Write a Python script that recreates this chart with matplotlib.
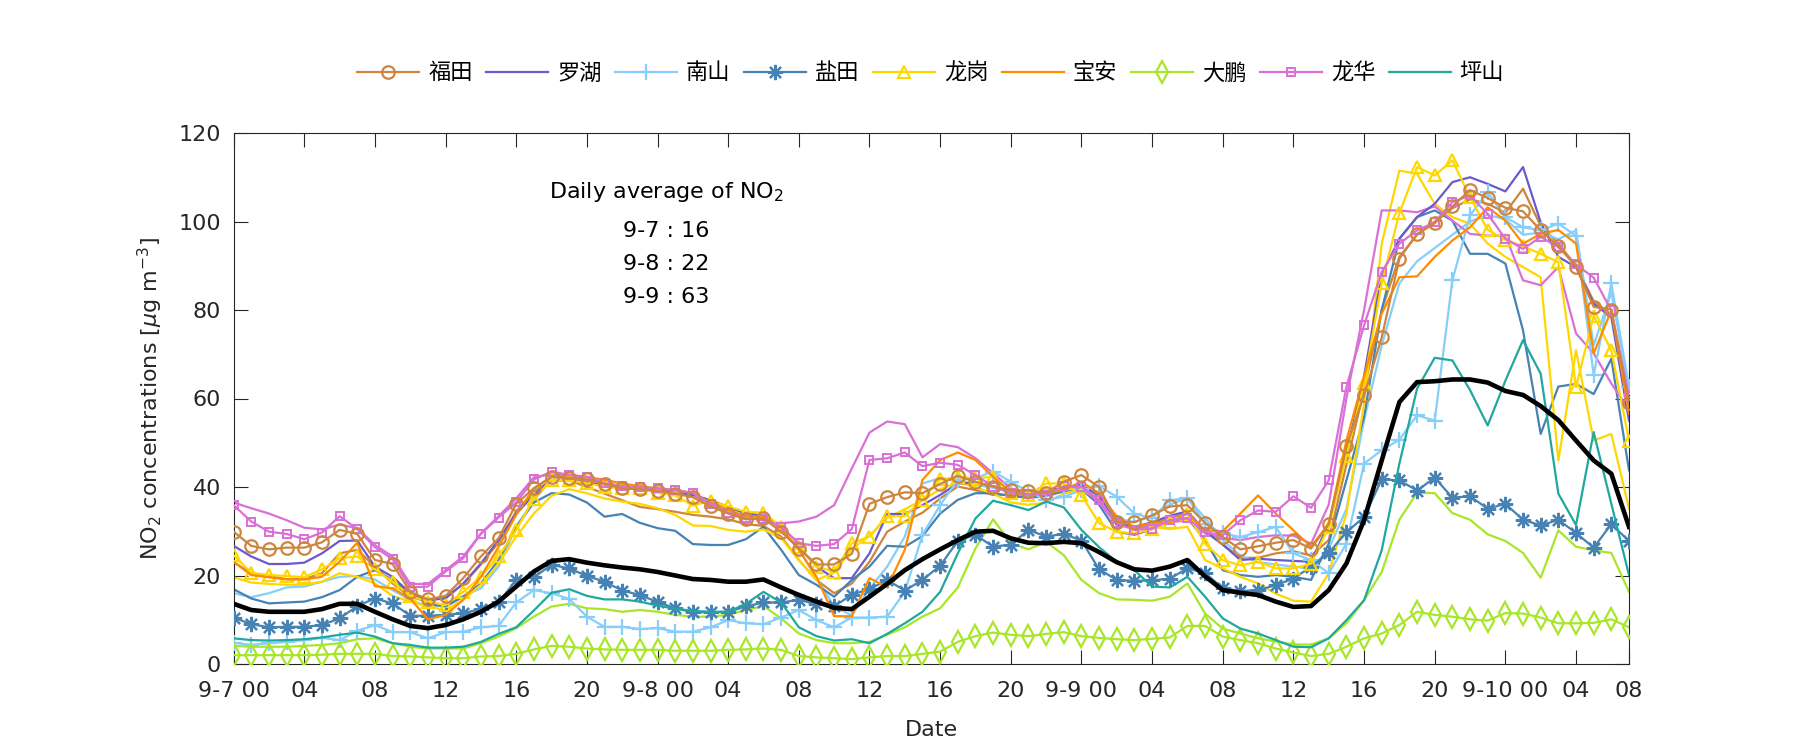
import matplotlib
matplotlib.use('Agg')
import matplotlib.pyplot as plt
import numpy as np

# ---------------- data ----------------
hours = list(range(1, 81))  # hourly index, 9-7 00 ... 9-10 07
tick_pos = list(range(1, 78, 4)) + [80]
tick_labels = ['9-7 00', '04', '08', '12', '16', '20',
               '9-8 00', '04', '08', '12', '16', '20',
               '9-9 00', '04', '08', '12', '16', '20',
               '9-10 00', '04', '08']

district_names = ['福田', '罗湖', '南山', '盐田', '龙岗', '宝安', '大鹏', '龙华', '坪山']

futian = [29.9, 26.7, 25.9, 26.3, 26.3, 27.5, 30.3, 29.4, 23.5, 22.6,
          16.3, 14.6, 15.4, 19.4, 24.3, 28.4, 36.2, 39.7, 42.3, 42.0,
          41.7, 40.7, 39.7, 39.5, 39.1, 38.5, 37.7, 35.6, 34.0, 32.7,
          32.9, 29.9, 26.1, 22.5, 22.5, 24.9, 36.2, 37.7, 38.8, 38.6,
          40.7, 42.5, 41.2, 40.1, 39.3, 39.2, 38.7, 41.2, 42.7, 40.0,
          32.1, 32.1, 33.6, 35.6, 35.9, 31.9, 28.7, 25.9, 26.6, 27.4,
          28.0, 26.1, 31.6, 49.2, 60.7, 73.8, 91.6, 97.2, 99.6, 103.4,
          107.1, 105.3, 103.1, 102.3, 98.0, 94.4, 89.8, 80.7, 80.1, 58.9]
futian_b = [23.0, 20.5, 19.8, 19.2, 19.2, 20.5, 25.0, 25.8, 22.0, 18.2,
            15.2, 14.1, 15.2, 18.0, 22.5, 27.5, 34.5, 39.0, 41.5, 41.5,
            40.0, 38.5, 37.0, 35.5, 35.0, 34.4, 33.7, 33.3, 32.7, 31.6,
            31.2, 28.8, 23.5, 19.0, 16.0, 18.2, 23.1, 29.9, 32.2, 34.2,
            37.4, 40.1, 39.3, 38.2, 38.2, 37.8, 38.2, 39.3, 39.7, 38.2,
            32.5, 30.7, 31.5, 33.0, 34.0, 30.0, 27.0, 24.0, 24.0, 25.0,
            25.5, 24.5, 28.0, 45.0, 62.0, 80.0, 92.0, 97.0, 100.0, 103.0,
            105.0, 104.0, 102.0, 107.4, 99.0, 95.0, 90.0, 82.0, 79.0, 58.0]
luohu = [26.7, 24.3, 22.6, 22.6, 22.9, 25.0, 27.8, 27.9, 22.0, 19.7,
         16.0, 14.5, 14.8, 18.2, 22.7, 28.0, 34.0, 38.2, 41.6, 41.7,
         41.0, 40.3, 39.8, 39.5, 39.2, 38.8, 38.2, 37.0, 35.5, 34.0,
         33.5, 31.0, 26.5, 22.0, 19.4, 19.4, 25.0, 33.9, 33.9, 35.9,
         38.2, 40.8, 41.0, 40.2, 39.0, 38.8, 39.0, 40.0, 40.5, 38.0,
         31.5, 31.0, 32.0, 33.5, 34.5, 30.0, 27.0, 23.5, 23.8, 23.5,
         23.3, 23.1, 31.7, 47.5, 65.0, 88.0, 96.1, 101.0, 104.0, 108.9,
         110.0, 108.5, 106.8, 112.3, 99.8, 92.0, 89.7, 81.4, 78.4, 55.0]
nanshan = [4.8, 4.3, 4.7, 5.0, 5.4, 5.9, 5.4, 7.5, 8.8, 7.2,
           7.2, 5.8, 7.2, 7.3, 8.3, 8.6, 13.9, 16.7, 16.0, 14.7,
           10.7, 8.4, 8.4, 7.9, 8.1, 7.3, 7.3, 8.3, 9.9, 9.2,
           9.0, 10.5, 12.2, 9.9, 8.3, 10.5, 10.5, 10.7, 16.3, 29.2,
           35.9, 41.6, 42.0, 43.5, 41.2, 38.9, 37.1, 37.8, 39.3, 40.2,
           37.8, 34.0, 32.9, 37.0, 37.5, 31.7, 29.5, 28.7, 29.8, 31.0,
           25.0, 23.5, 20.5, 27.2, 45.3, 48.3, 50.7, 56.2, 55.0, 86.7,
           101.4, 106.6, 101.0, 98.7, 98.0, 99.5, 96.8, 65.3, 86.0, 62.7]
nanshan_b = [16.0, 15.1, 16.0, 17.3, 17.5, 18.6, 19.7, 19.9, 19.1, 16.7,
             14.5, 13.0, 13.3, 15.4, 17.1, 22.0, 31.0, 37.1, 41.6, 41.5,
             41.0, 40.5, 40.0, 39.6, 39.3, 38.8, 38.2, 37.0, 35.5, 34.0,
             33.5, 31.0, 26.0, 19.4, 13.0, 11.0, 17.0, 22.0, 28.8, 40.8,
             42.0, 41.5, 40.5, 39.8, 39.0, 38.5, 38.8, 39.5, 40.0, 38.0,
             33.0, 32.0, 33.5, 36.0, 37.5, 33.0, 28.0, 24.5, 23.0, 22.5,
             22.0, 21.5, 26.0, 35.0, 55.0, 72.0, 86.0, 91.0, 94.0, 97.0,
             100.0, 101.5, 100.5, 97.0, 97.5, 96.0, 98.0, 72.0, 84.0, 62.0]
yantian = [10.5, 9.0, 8.3, 8.4, 8.4, 8.8, 10.3, 13.1, 14.8, 13.7,
           10.9, 10.9, 11.1, 11.5, 12.4, 13.9, 19.0, 19.6, 22.4, 21.6,
           19.9, 18.6, 16.6, 15.6, 14.0, 12.6, 11.7, 11.7, 11.8, 13.0,
           13.9, 13.9, 14.5, 13.5, 13.0, 15.7, 16.9, 19.0, 16.6, 19.0,
           22.2, 27.8, 29.2, 26.5, 27.0, 30.3, 28.8, 29.4, 27.9, 21.4,
           19.0, 18.8, 18.9, 19.3, 21.6, 20.6, 17.1, 16.5, 16.7, 17.8,
           19.3, 22.0, 25.1, 29.8, 33.2, 41.7, 41.5, 39.2, 42.1, 37.6,
           37.9, 35.1, 36.2, 32.6, 31.3, 32.6, 29.6, 26.3, 31.6, 27.8]
yantian_b = [16.9, 14.8, 13.7, 13.9, 14.1, 15.1, 16.7, 19.7, 21.2, 19.0,
             16.0, 13.6, 13.0, 15.2, 18.2, 23.5, 31.0, 36.5, 38.6, 38.3,
             36.5, 33.3, 33.9, 31.9, 30.7, 30.1, 27.1, 26.9, 26.9, 28.2,
             31.0, 25.8, 20.1, 17.9, 15.2, 19.0, 22.0, 26.7, 26.5, 28.9,
             34.0, 37.1, 38.6, 38.6, 38.0, 37.5, 38.0, 39.0, 39.5, 36.0,
             29.9, 29.2, 30.5, 32.0, 33.0, 28.0, 21.2, 20.1, 19.7, 20.1,
             19.7, 19.0, 27.2, 41.5, 55.8, 80.0, 96.1, 101.0, 102.5, 100.2,
             92.7, 92.7, 90.5, 75.4, 52.0, 62.7, 63.3, 61.0, 69.0, 43.8]
longgang = [24.6, 20.6, 20.1, 19.9, 19.6, 21.4, 23.9, 24.3, 21.4, 18.6,
            15.4, 14.1, 13.3, 16.3, 19.7, 24.3, 30.3, 37.4, 41.6, 41.6,
            40.8, 40.1, 39.7, 39.7, 38.7, 38.1, 35.8, 36.9, 35.6, 34.4,
            34.2, 31.0, 26.5, 22.0, 20.9, 27.3, 28.8, 33.4, 33.4, 37.1,
            41.7, 42.3, 42.0, 42.3, 38.6, 38.2, 40.8, 40.8, 38.2, 31.8,
            29.9, 29.5, 30.5, 32.0, 34.0, 27.2, 23.5, 22.3, 23.1, 21.6,
            21.6, 22.7, 30.9, 47.1, 63.4, 86.0, 101.9, 112.3, 110.4, 113.8,
            105.5, 98.1, 95.9, 94.4, 92.7, 90.8, 62.6, 78.7, 70.9, 50.5]
longgang_b = [19.6, 18.4, 18.1, 17.9, 17.9, 18.6, 20.5, 19.7, 18.2, 15.4,
              14.1, 13.0, 12.2, 14.5, 17.9, 22.7, 28.8, 34.0, 38.0, 39.5,
              38.6, 37.4, 36.7, 36.2, 35.2, 33.7, 31.3, 31.2, 30.3, 29.9,
              30.4, 28.4, 23.5, 19.0, 20.6, 26.0, 29.0, 33.0, 35.0, 37.0,
              39.5, 41.0, 40.0, 38.5, 36.5, 36.0, 36.5, 38.5, 39.5, 37.0,
              31.5, 30.5, 31.0, 30.5, 31.0, 23.5, 21.6, 19.7, 18.2, 15.9,
              14.3, 14.1, 20.5, 34.0, 58.8, 95.0, 111.5, 110.8, 104.0, 101.0,
              99.5, 95.0, 92.0, 89.7, 87.4, 46.0, 70.9, 50.5, 52.0, 35.1]
baoan = [23.1, 20.1, 19.6, 19.1, 19.1, 19.7, 23.1, 27.4, 17.6, 17.1,
         14.8, 10.1, 11.1, 14.5, 19.7, 26.5, 33.7, 39.7, 42.3, 42.7,
         42.3, 41.6, 40.8, 40.2, 39.7, 39.3, 38.6, 36.5, 34.8, 33.4,
         33.3, 30.7, 25.8, 19.7, 10.8, 10.8, 19.4, 17.3, 25.8, 41.6,
         46.1, 47.8, 46.1, 42.3, 38.9, 38.2, 38.6, 39.3, 41.2, 38.6,
         33.3, 31.0, 31.8, 32.0, 34.0, 30.2, 30.0, 34.0, 38.1, 34.0,
         30.2, 26.5, 31.7, 50.5, 65.0, 79.2, 87.4, 87.6, 92.0, 95.7,
         98.7, 103.2, 100.2, 95.0, 97.2, 98.1, 95.0, 70.2, 79.9, 56.6]
dapeng = [2.0, 2.0, 2.0, 2.0, 2.0, 2.1, 2.3, 2.3, 2.3, 1.8,
          1.7, 1.5, 1.3, 1.3, 1.7, 1.8, 2.3, 3.3, 4.1, 3.9,
          3.5, 3.3, 3.2, 3.2, 3.2, 3.0, 3.0, 3.0, 3.2, 3.3,
          3.5, 3.2, 1.8, 1.5, 1.3, 1.1, 1.5, 1.8, 1.8, 2.3,
          2.8, 5.0, 6.3, 7.1, 6.6, 6.3, 6.8, 7.2, 6.3, 5.9,
          5.6, 5.4, 5.7, 6.0, 8.6, 8.6, 6.2, 5.4, 4.7, 3.5,
          2.6, 1.8, 2.3, 3.9, 5.8, 6.9, 8.8, 11.8, 11.1, 10.7,
          10.1, 9.8, 11.5, 11.4, 10.5, 9.2, 9.2, 9.3, 10.1, 8.3]
dapeng_b = [4.1, 3.9, 3.9, 3.9, 4.1, 4.3, 4.7, 5.6, 5.8, 4.7,
            3.9, 3.5, 3.5, 3.5, 4.7, 6.2, 8.1, 10.7, 13.0, 13.6,
            12.6, 12.4, 11.8, 12.2, 11.8, 11.1, 10.7, 10.7, 11.1, 12.2,
            13.1, 10.3, 6.9, 5.4, 4.7, 4.7, 5.0, 6.6, 8.3, 10.7,
            12.6, 17.3, 26.1, 32.7, 27.3, 25.9, 27.6, 24.6, 19.0, 16.0,
            14.6, 14.5, 14.3, 15.2, 18.2, 11.4, 8.0, 6.9, 5.8, 5.1,
            4.4, 4.4, 5.8, 9.2, 14.4, 20.8, 32.6, 38.7, 38.6, 34.1,
            32.6, 29.3, 27.8, 25.1, 19.5, 30.2, 26.5, 25.7, 25.1, 16.3]
longhua = [35.9, 32.2, 29.9, 29.4, 28.2, 29.7, 33.4, 30.5, 26.4, 23.7,
           17.3, 17.5, 20.9, 23.9, 29.4, 33.1, 36.5, 41.7, 43.5, 42.7,
           42.3, 40.8, 40.2, 39.9, 39.7, 39.3, 38.7, 36.2, 34.2, 32.9,
           32.7, 31.0, 27.3, 26.7, 27.1, 30.5, 46.1, 46.5, 47.8, 44.7,
           45.5, 45.0, 42.7, 40.1, 38.6, 38.4, 38.3, 40.2, 40.1, 37.1,
           31.8, 30.3, 30.6, 32.5, 32.9, 29.8, 29.1, 32.5, 34.7, 34.4,
           37.9, 35.3, 41.5, 62.6, 76.5, 88.6, 95.0, 98.0, 99.8, 104.4,
           105.9, 101.7, 96.1, 93.8, 96.5, 94.2, 90.3, 87.3, 79.9, 60.5]
longhua_b = [36.5, 35.2, 34.0, 32.5, 30.8, 30.4, 31.5, 30.7, 26.9, 24.3,
             18.1, 18.1, 21.2, 24.3, 29.5, 33.4, 37.4, 42.2, 42.9, 42.4,
             41.8, 40.9, 40.2, 39.8, 39.5, 39.0, 38.3, 36.0, 34.5, 33.3,
             32.4, 31.8, 32.2, 33.3, 35.9, 44.2, 52.3, 54.8, 54.2, 46.7,
             49.7, 49.0, 46.5, 43.1, 39.7, 38.5, 38.3, 40.0, 40.0, 36.5,
             31.5, 30.8, 31.0, 32.0, 32.5, 29.5, 28.5, 28.0, 28.7, 29.1,
             29.0, 27.2, 36.0, 60.0, 80.0, 102.5, 102.5, 102.1, 103.4, 100.2,
             97.2, 96.8, 96.8, 86.7, 85.6, 89.7, 74.7, 70.2, 63.4, 57.4]
pingshan = [5.8, 5.4, 5.3, 5.4, 5.6, 6.0, 6.6, 7.1, 6.2, 4.7,
            4.3, 3.7, 3.7, 3.9, 5.0, 6.8, 8.3, 12.1, 16.1, 16.9,
            15.4, 14.6, 14.6, 14.1, 13.2, 12.5, 12.0, 11.8, 11.8, 13.6,
            16.3, 13.9, 8.3, 6.3, 5.3, 5.6, 4.7, 6.8, 9.2, 11.8,
            16.3, 25.0, 32.9, 36.9, 35.9, 34.8, 36.7, 35.4, 30.3, 26.4,
            23.1, 21.2, 17.5, 17.3, 19.7, 15.2, 10.3, 8.0, 6.9, 5.4,
            3.9, 3.8, 5.8, 9.9, 14.4, 25.7, 45.3, 62.2, 69.2, 68.6,
            61.9, 53.9, 64.0, 73.2, 65.6, 38.5, 31.4, 52.4, 36.2, 20.1]
city_mean = [13.6, 12.2, 11.8, 11.8, 11.8, 12.4, 13.6, 13.6, 11.8, 10.1,
             8.6, 8.1, 8.8, 10.1, 11.8, 14.1, 17.5, 20.9, 23.3, 23.7,
             22.9, 22.3, 21.8, 21.4, 20.8, 20.0, 19.2, 19.0, 18.6, 18.6,
             19.1, 17.3, 15.6, 14.1, 12.7, 12.4, 15.2, 18.1, 21.2, 23.7,
             25.9, 28.0, 29.9, 30.1, 28.4, 27.4, 27.3, 27.6, 27.3, 25.3,
             23.0, 21.4, 21.1, 22.0, 23.5, 19.8, 16.7, 16.1, 15.6, 14.1,
             12.9, 13.1, 16.7, 22.7, 32.5, 46.0, 59.2, 63.7, 63.9, 64.3,
             64.3, 63.6, 61.7, 60.8, 58.3, 55.1, 50.5, 46.0, 43.0, 31.0]

daily_avg_days = ['9-7', '9-8', '9-9']
daily_avg_vals = [16, 22, 63]

# ---------------- style ----------------
plt.rcParams['font.family'] = ['DejaVu Sans', 'Noto Sans CJK SC']
plt.rcParams['mathtext.fontset'] = 'dejavusans'
TXT = '#262626'

c_futian = '#CD853F'
c_luohu = '#6A5ACD'
c_nanshan = '#87CEFA'
c_yantian = '#4682B4'
c_longgang = '#FFD700'
c_baoan = '#FF8C00'
c_dapeng = '#A8E62A'
c_longhua = '#DA70D6'
c_pingshan = '#20A89E'

fig = plt.figure(figsize=(18, 7.5), dpi=100)
ax = fig.add_axes([233.6 / 1800, 86 / 750, (1629 - 233.6) / 1800, 531 / 750])

lw = 1.6
# secondary stations (no legend entry)
ax.plot(hours, futian_b, color=c_futian, lw=lw, zorder=2)
ax.plot(hours, nanshan_b, color=c_nanshan, lw=lw, zorder=2)
ax.plot(hours, yantian_b, color=c_yantian, lw=lw, zorder=2)
ax.plot(hours, longgang_b, color=c_longgang, lw=lw, zorder=2)
ax.plot(hours, dapeng_b, color=c_dapeng, lw=lw, zorder=2)
ax.plot(hours, longhua_b, color=c_longhua, lw=lw, zorder=2)

asterisk = (8, 2, 0)
h = []
h.append(ax.plot(hours, futian, color=c_futian, lw=lw, marker='o', ms=9,
                 mfc='none', mew=1.6, zorder=4)[0])
h.append(ax.plot(hours, luohu, color=c_luohu, lw=lw, zorder=3)[0])
h.append(ax.plot(hours, nanshan, color=c_nanshan, lw=lw, marker='+', ms=11,
                 mew=1.6, zorder=3)[0])
h.append(ax.plot(hours, yantian, color=c_yantian, lw=lw, marker=asterisk, ms=11,
                 mew=1.6, zorder=3)[0])
h.append(ax.plot(hours, longgang, color=c_longgang, lw=lw, marker='^', ms=9,
                 mfc='none', mew=1.6, zorder=3)[0])
h.append(ax.plot(hours, baoan, color=c_baoan, lw=lw, zorder=3)[0])
h.append(ax.plot(hours, dapeng, color=c_dapeng, lw=lw, marker='d', ms=11,
                 mfc='none', mew=1.6, zorder=3)[0])
h.append(ax.plot(hours, longhua, color=c_longhua, lw=lw, marker='s', ms=6,
                 mfc='none', mew=1.4, zorder=3)[0])
h.append(ax.plot(hours, pingshan, color=c_pingshan, lw=lw, zorder=3)[0])

ax.plot(hours, city_mean, color='black', lw=3.3, zorder=5)

ax.set_xlim(1, 80)
ax.set_ylim(0, 120)
ax.set_xticks(tick_pos)
ax.set_xticklabels(tick_labels)
ax.set_yticks(np.arange(0, 121, 20))
ax.tick_params(direction='in', length=10, width=0.8, top=True, right=True,
               labelsize=16, colors=TXT, labelcolor=TXT)
ax.tick_params(axis='x', pad=12)
ax.tick_params(axis='y', pad=9)
for s in ax.spines.values():
    s.set_linewidth(0.8)
    s.set_color(TXT)

ax.set_xlabel('Date', fontsize=16, color=TXT, labelpad=14)
ax.set_ylabel(r'NO$_2$ concentrations [$\mu$g m$^{-3}$]', fontsize=16,
              color=TXT, labelpad=10)

# annotation block
tx = 25.5
ax.text(tx, 106.7, r'Daily average of NO$_2$', ha='center', va='center',
        fontsize=16, color='black')
for k, (d, v) in enumerate(zip(daily_avg_days, daily_avg_vals)):
    ax.text(tx, 97.9 - 7.5 * k, f'{d} : {v}', ha='center', va='center',
            fontsize=16, color='black')

fig.legend(h, district_names, loc='center', bbox_to_anchor=(0.517, 0.903),
           ncol=9, frameon=False, fontsize=16, handlelength=2.8,
           handletextpad=0.4, columnspacing=0.6)

fig.savefig('out.png', dpi=100, facecolor='white')
